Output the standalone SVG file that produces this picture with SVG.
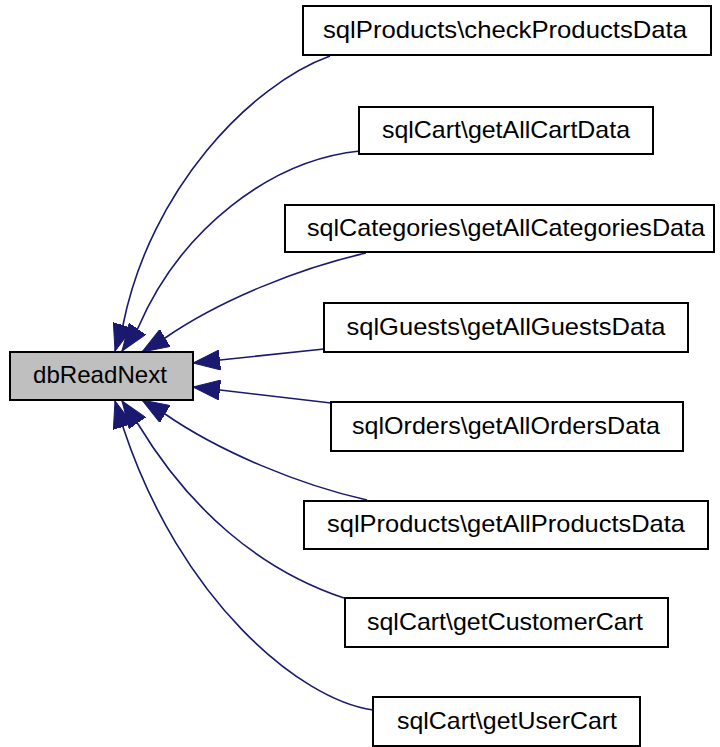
<svg xmlns="http://www.w3.org/2000/svg" width="720" height="747" viewBox="0 0 720 747">
<defs>
<marker id="arr" viewBox="0 0 27 20" refX="27" refY="10" markerWidth="27" markerHeight="20" markerUnits="userSpaceOnUse" orient="auto">
<path d="M0,0 L27,10 L0,20 z" fill="#191970" stroke="#191970" stroke-width="1"/>
</marker>
</defs>
<style>
.node rect{fill:#ffffff;stroke:#000000;stroke-width:2}
.node.main rect{fill:#bfbfbf}
.node text{font-family:"Liberation Sans",Arial,sans-serif;font-size:24px;fill:#000000;text-anchor:middle}
.edge{fill:none;stroke:#191970;stroke-width:1.6;marker-end:url(#arr)}
</style>
<rect width="720" height="747" fill="#ffffff"/>
<g id="edges">
<path class="edge" d="M330,56 C250,85 150,190 123,325 L115,351"/>
<path class="edge" d="M360,151 C270,160 180,230 138,328 L122,351"/>
<path class="edge" d="M366,253 C300,268 220,300 165,338 L142,352"/>
<path class="edge" d="M324,349 L220,360 L193,363"/>
<path class="edge" d="M331,403 L220,390 L193,387"/>
<path class="edge" d="M367,500 C300,485 220,452 165,414 L142,400"/>
<path class="edge" d="M344,598 C260,570 190,510 138,424 L122,401"/>
<path class="edge" d="M373,710 C300,700 180,600 123,427 L115,401"/>
</g>
<g id="dbReadNext" class="node main"><rect x="10" y="352" width="183" height="48"/><text x="100" y="383" textLength="134" lengthAdjust="spacingAndGlyphs">dbReadNext</text></g>
<g id="checkProductsData" class="node"><rect x="303" y="6" width="408" height="49"/><text x="505" y="38" textLength="364" lengthAdjust="spacingAndGlyphs">sqlProducts\checkProductsData</text></g>
<g id="getAllCartData" class="node"><rect x="359" y="107" width="294" height="47"/><text x="506" y="138" textLength="248" lengthAdjust="spacingAndGlyphs">sqlCart\getAllCartData</text></g>
<g id="getAllCategoriesData" class="node"><rect x="285" y="205" width="429" height="47"/><text x="506" y="236" textLength="398" lengthAdjust="spacingAndGlyphs">sqlCategories\getAllCategoriesData</text></g>
<g id="getAllGuestsData" class="node"><rect x="324" y="303" width="364" height="49"/><text x="506" y="335" textLength="319" lengthAdjust="spacingAndGlyphs">sqlGuests\getAllGuestsData</text></g>
<g id="getAllOrdersData" class="node"><rect x="331" y="402" width="352" height="49"/><text x="506" y="434" textLength="308" lengthAdjust="spacingAndGlyphs">sqlOrders\getAllOrdersData</text></g>
<g id="getAllProductsData" class="node"><rect x="304" y="501" width="404" height="48"/><text x="506" y="532" textLength="358" lengthAdjust="spacingAndGlyphs">sqlProducts\getAllProductsData</text></g>
<g id="getCustomerCart" class="node"><rect x="345" y="598" width="323" height="49"/><text x="505" y="630" textLength="276" lengthAdjust="spacingAndGlyphs">sqlCart\getCustomerCart</text></g>
<g id="getUserCart" class="node"><rect x="373" y="697" width="267" height="49"/><text x="507" y="729" textLength="220" lengthAdjust="spacingAndGlyphs">sqlCart\getUserCart</text></g>
</svg>
